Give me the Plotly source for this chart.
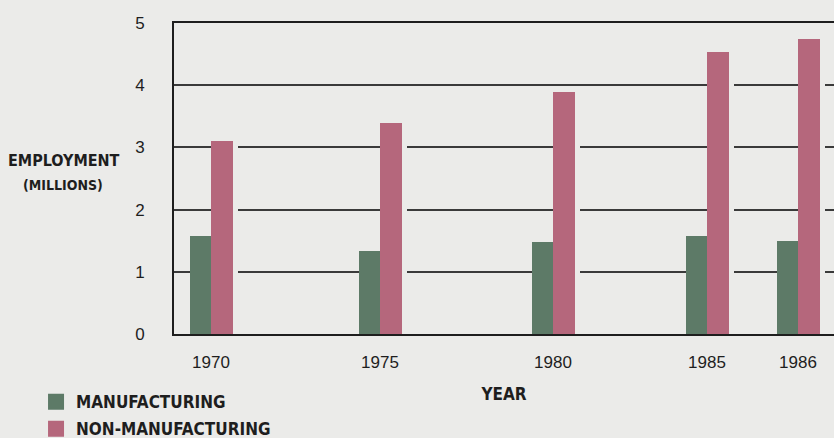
import plotly.graph_objects as go

years = ["1970", "1975", "1980", "1985", "1986"]
manufacturing = [1.57, 1.33, 1.48, 1.58, 1.49]
non_manufacturing = [3.10, 3.39, 3.89, 4.53, 4.74]
y_ticks = [0, 1, 2, 3, 4, 5]

# layout: horizontal slot of each year group on the x axis (not data)
slot_pos = [37, 206, 379, 533, 624]
X_RANGE = [0, 660]
BAR_W = 21.5

BG = "#ebebe9"
GREEN = "#5d7a67"
PINK = "#b5677c"
INK = "#1e1e1e"
NARROW = "Liberation Sans Narrow, Arial Narrow, DejaVu Sans Condensed, sans-serif"
REG = "Liberation Sans, Arial, Helvetica, sans-serif"

fig = go.Figure()

# background-coloured halo that breaks the gridlines beside the tall bars
fig.add_trace(go.Bar(
    x=slot_pos, y=non_manufacturing, width=BAR_W + 5, offset=0,
    marker=dict(color=BG, line=dict(width=0)), showlegend=False, hoverinfo="skip"))

fig.add_trace(go.Bar(
    x=slot_pos, y=manufacturing, width=BAR_W, offset=-BAR_W,
    marker=dict(color=GREEN, line=dict(width=0)), name="MANUFACTURING", showlegend=False))
fig.add_trace(go.Bar(
    x=slot_pos, y=non_manufacturing, width=BAR_W, offset=0,
    marker=dict(color=PINK, line=dict(width=0)), name="NON-MANUFACTURING", showlegend=False))

# legend entries (square swatches)
for name, col in [("MANUFACTURING", GREEN), ("NON-MANUFACTURING", PINK)]:
    fig.add_trace(go.Scatter(
        x=[None], y=[None], mode="markers", name=f"<b>{name}</b>", legendgroup=name,
        marker=dict(symbol="square", size=17, color=col)))

fig.update_layout(
    width=834, height=438,
    margin=dict(l=174, r=0, t=23, b=104, autoexpand=False),
    paper_bgcolor=BG, plot_bgcolor=BG,
    barmode="overlay", bargap=0,
    showlegend=True,
    legend=dict(
        xref="container", yref="container",
        x=0.0432, y=0.123, xanchor="left", yanchor="top",
        bgcolor="rgba(0,0,0,0)", borderwidth=0,
        font=dict(family=NARROW, size=17, color=INK),
        itemsizing="trace", tracegroupgap=2,
    ),
    font=dict(family=REG, color=INK),
)

fig.update_xaxes(
    range=X_RANGE, tickmode="array", tickvals=slot_pos, ticktext=years,
    showgrid=False, zeroline=False, automargin=False,
    showline=True, linecolor=INK, linewidth=2, mirror=True,
    ticks="", ticklabelstandoff=12,
    tickfont=dict(family=REG, size=17, color=INK),
    title=dict(text="<b>YEAR</b>", font=dict(family=NARROW, size=17, color=INK), standoff=17),
)

fig.update_yaxes(
    range=[0, 5], tickmode="array", tickvals=y_ticks,
    showgrid=True, gridcolor="#3a3a3a", gridwidth=1.5,
    zeroline=False, automargin=False,
    showline=True, linecolor=INK, linewidth=2,
    ticks="", ticklabelstandoff=24,
    tickfont=dict(family=REG, size=17, color=INK),
)

fig.add_annotation(
    xref="paper", yref="paper", x=-0.1667, y=0.559,
    text="<b>EMPLOYMENT</b>", showarrow=False, xanchor="center", yanchor="middle",
    font=dict(family=NARROW, size=16, color=INK))
fig.add_annotation(
    xref="paper", yref="paper", x=-0.168, y=0.479,
    text="<b>(MILLIONS)</b>", showarrow=False, xanchor="center", yanchor="middle",
    font=dict(family=NARROW, size=14, color=INK))

fig.write_html("out.html")
